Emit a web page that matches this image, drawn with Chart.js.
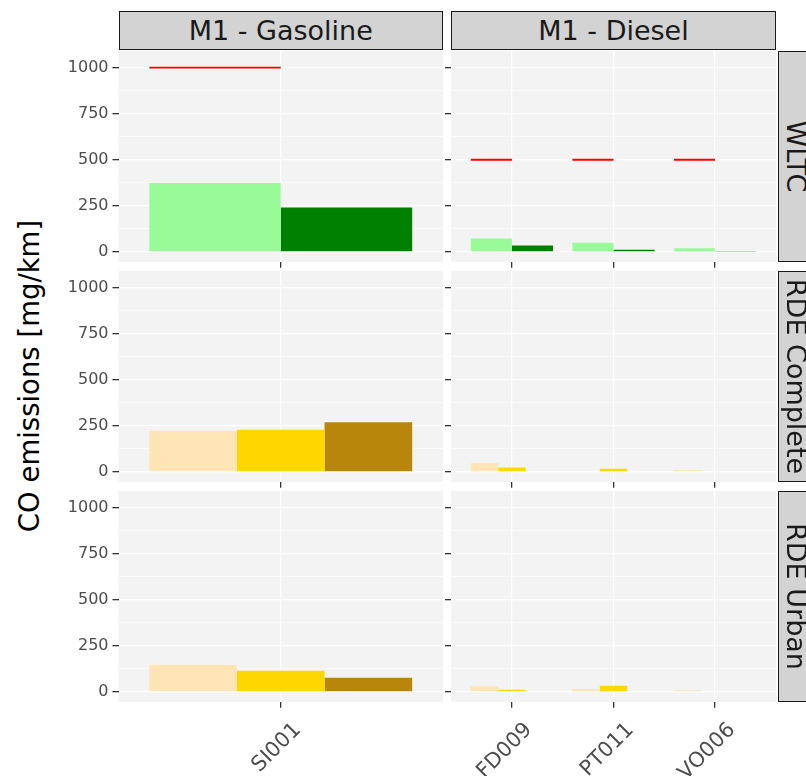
<!DOCTYPE html>
<html>
<head>
<meta charset="utf-8">
<script src="https://cdn.jsdelivr.net/npm/chart.js@4"></script>
<style>
html,body{margin:0;padding:0;background:#ffffff;width:806px;height:776px;overflow:hidden;position:relative;font-family:"DejaVu Sans",sans-serif;}
canvas.p{position:absolute;left:0;top:0;}
.strip{position:absolute;box-sizing:border-box;background:#D3D3D3;border:1.4px solid #1a1a1a;color:#1a1a1a;font-size:27px;display:flex;align-items:center;justify-content:center;white-space:nowrap;overflow:visible;}
.vt{display:inline-block;transform:rotate(90deg);}
#ytitle{position:absolute;width:500px;height:34px;line-height:34px;text-align:center;font-size:27.5px;color:#000;transform:rotate(-90deg);white-space:nowrap;}
</style>
</head>
<body>
<div id="ytitle">CO emissions [mg/km]</div>
<script>
// ---------- data ----------
const facetCols = ['M1 - Gasoline', 'M1 - Diesel'];
const facetRows = ['WLTC', 'RDE Complete', 'RDE Urban'];
const categoriesGasoline = ['SI001'];
const categoriesDiesel = ['FD009', 'PT011', 'VO006'];
const yTickValues = [0, 250, 500, 750, 1000];
const yMinorValues = [125, 375, 625, 875];

const gasWltcA = [374];
const gasWltcB = [240];
const gasLimit = [1000];
const dieWltcA = [72, 50, 19];
const dieWltcB = [34, 12, 5];
const dieLimit = [500, 500, 500];

const gasRdeCompA = [222];
const gasRdeCompB = [229];
const gasRdeCompC = [269];
const dieRdeCompA = [46, null, 10];
const dieRdeCompB = [23, 17, null];
const dieRdeCompC = [null, null, null];

const gasRdeUrbA = [147];
const gasRdeUrbB = [114];
const gasRdeUrbC = [76];
const dieRdeUrbA = [31, 16, 9];
const dieRdeUrbB = [11, 33, null];
const dieRdeUrbC = [null, null, null];

// ---------- styling / layout ----------
const COL_LIGHTGREEN = '#98FB98', COL_GREEN = '#008000', COL_RED = '#FF0000';
const COL_MOCCASIN = '#FFE4B5', COL_GOLD = '#FFD700', COL_DGOLD = '#B8860B';
const PANEL_BG = '#F3F3F3';
const Y_MIN = -54, Y_MAX = 1091;
const LIMIT_HALF = 5;
const cols = [{l:118.5, r:443}, {l:451, r:776}];
const rows = [{t:50.8, b:261.8}, {t:270.8, b:481.8}, {t:490.8, b:701.8}];
const Y_W = 60, W = 806, H = 776;
const X_H = H - rows[rows.length - 1].b;
const FONT = 'DejaVu Sans';

const bgPlugin = {
  id: 'panelBg',
  beforeDraw(chart) {
    const {ctx, chartArea: a} = chart;
    ctx.save();
    ctx.fillStyle = PANEL_BG;
    ctx.fillRect(a.left, a.top, a.right - a.left, a.bottom - a.top);
    ctx.restore();
  }
};

function bar(data, color, stack) {
  return {data, backgroundColor: color, stack, borderWidth: 0,
          categoryPercentage: 0.81, barPercentage: 1.0};
}
function limitBars(vals) {
  return vals.map(v => v === null ? null : [v - LIMIT_HALF, v + LIMIT_HALF]);
}

function makePanel(ci, ri, labels, datasets) {
  const col = cols[ci], row = rows[ri];
  const showY = ci === 0, showX = ri === rows.length - 1;
  const cv = document.createElement('canvas');
  cv.className = 'p';
  cv.width = W; cv.height = H;
  cv.style.width = W + 'px'; cv.style.height = H + 'px';
  document.body.appendChild(cv);
  const isMajor = v => yTickValues.includes(v);
  new Chart(cv, {
    type: 'bar',
    data: {labels, datasets},
    plugins: [bgPlugin],
    options: {
      responsive: false, animation: false, devicePixelRatio: 1,
      layout: {padding: {left: col.l - Y_W, right: W - col.r, top: row.t, bottom: Math.max(0, H - row.b - X_H)}},
      plugins: {legend: {display: false}, tooltip: {enabled: false}},
      scales: {
        x: {
          type: 'category', offset: true,
          afterBuildTicks: s => { s._startValue = -0.6; s._valueRange = labels.length - 1 + 1.2; },
          afterFit: s => { s.height = X_H; },
          ticks: {autoSkip: false, minRotation: 45, maxRotation: 45, padding: 10, labelOffset: 17,
                  color: '#4D4D4D', font: {family: FONT, size: 21},
                  callback: (v, i) => showX ? labels[i] : ''},
          grid: {offset: false, color: '#FFFFFF', lineWidth: 1.3, drawTicks: true,
                 tickLength: 6, tickColor: '#333333', tickWidth: 1.3},
          border: {display: false}
        },
        y: {
          type: 'linear', min: Y_MIN, max: Y_MAX, bounds: 'data', stacked: false,
          afterBuildTicks: s => {
            s.ticks = yMinorValues.concat(yTickValues).sort((a, b) => a - b).map(v => ({value: v}));
          },
          afterFit: s => { s.width = Y_W; },
          ticks: {autoSkip: false, padding: 4, color: '#4D4D4D', font: {family: FONT, size: 16},
                  callback: v => (showY && isMajor(v)) ? String(v) : ''},
          grid: {color: '#FFFFFF', drawTicks: true, tickLength: 6,
                 lineWidth: c => isMajor(c.tick.value) ? 1.3 : 0.6,
                 tickColor: c => isMajor(c.tick.value) ? '#333333' : 'rgba(0,0,0,0)',
                 tickWidth: 1.3},
          border: {display: false}
        }
      }
    }
  });
}

// WLTC
makePanel(0, 0, categoriesGasoline, [
  bar(gasWltcA, COL_LIGHTGREEN, 's1'), bar(limitBars(gasLimit), COL_RED, 's1'), bar(gasWltcB, COL_GREEN, 's2')]);
makePanel(1, 0, categoriesDiesel, [
  bar(dieWltcA, COL_LIGHTGREEN, 's1'), bar(limitBars(dieLimit), COL_RED, 's1'), bar(dieWltcB, COL_GREEN, 's2')]);
// RDE Complete
makePanel(0, 1, categoriesGasoline, [
  bar(gasRdeCompA, COL_MOCCASIN, 's1'), bar(gasRdeCompB, COL_GOLD, 's2'), bar(gasRdeCompC, COL_DGOLD, 's3')]);
makePanel(1, 1, categoriesDiesel, [
  bar(dieRdeCompA, COL_MOCCASIN, 's1'), bar(dieRdeCompB, COL_GOLD, 's2'), bar(dieRdeCompC, COL_DGOLD, 's3')]);
// RDE Urban
makePanel(0, 2, categoriesGasoline, [
  bar(gasRdeUrbA, COL_MOCCASIN, 's1'), bar(gasRdeUrbB, COL_GOLD, 's2'), bar(gasRdeUrbC, COL_DGOLD, 's3')]);
makePanel(1, 2, categoriesDiesel, [
  bar(dieRdeUrbA, COL_MOCCASIN, 's1'), bar(dieRdeUrbB, COL_GOLD, 's2'), bar(dieRdeUrbC, COL_DGOLD, 's3')]);

// strips
facetCols.forEach((name, i) => {
  const d = document.createElement('div');
  d.className = 'strip';
  Object.assign(d.style, {left: cols[i].l + 'px', top: '11px', width: (cols[i].r - cols[i].l) + 'px', height: '38.5px'});
  d.textContent = name;
  document.body.appendChild(d);
});
facetRows.forEach((name, i) => {
  const d = document.createElement('div');
  d.className = 'strip';
  Object.assign(d.style, {left: '777.5px', top: rows[i].t + 'px', width: '38.5px', height: (rows[i].b - rows[i].t) + 'px'});
  const s = document.createElement('span');
  s.className = 'vt';
  s.textContent = name;
  d.appendChild(s);
  document.body.appendChild(d);
});
// y title
const yt = document.getElementById('ytitle');
yt.style.left = (29 - 250) + 'px';
yt.style.top = (376 - 17) + 'px';
</script>
</body>
</html>
